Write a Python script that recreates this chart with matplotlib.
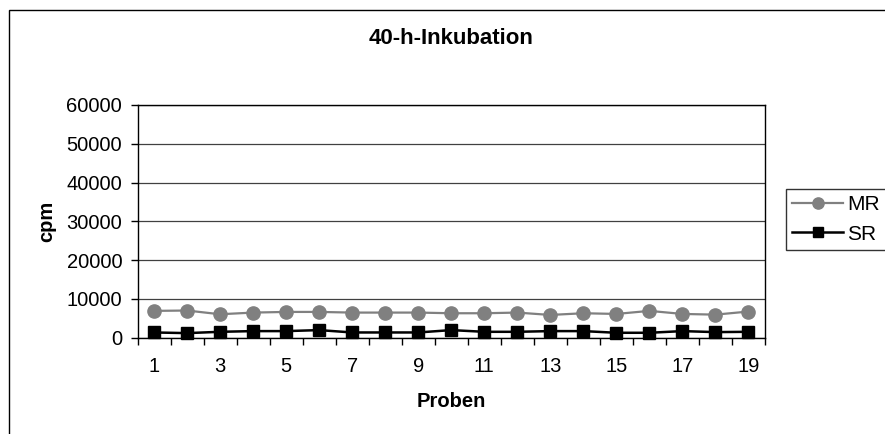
import numpy as np
import matplotlib
matplotlib.use("Agg")
import matplotlib.pyplot as plt
from matplotlib.patches import Rectangle

plt.rcParams['font.family'] = ['Liberation Sans', 'DejaVu Sans']

# counts per sample, 40 h incubation
proben = np.arange(1, 20)
mr = [6870, 6960, 6000, 6430, 6600, 6600, 6430, 6430, 6430, 6260,
      6260, 6430, 5820, 6260, 6080, 6870, 6080, 5900, 6700]
sr = [1300, 1130, 1470, 1650, 1650, 1910, 1300, 1300, 1300, 1910,
      1470, 1470, 1650, 1650, 1220, 1220, 1650, 1390, 1470]
yticks = [0, 10000, 20000, 30000, 40000, 50000, 60000]

W, H = 885, 434
fig = plt.figure(figsize=(W / 100, H / 100), dpi=100)

# chart area border (runs off the right and bottom edge)
fig.patches.append(Rectangle((9 / W, -0.05), 1.1, 1 - 10 / H + 0.05,
                             transform=fig.transFigure, fill=False,
                             edgecolor='black', lw=1.0))

ax = fig.add_axes([137.5 / W, 1 - 337.5 / H, (765 - 137.5) / W, (337.5 - 105) / H])

ax.plot(proben, mr, color='#808080', lw=1.6, marker='o', ms=9.5,
        mfc='#808080', mec='#808080', label='MR', zorder=3, clip_on=False)
ax.plot(proben, sr, color='black', lw=1.8, marker='s', ms=8.5,
        mfc='black', mec='black', label='SR', zorder=4, clip_on=False)

ax.set_xlim(0.5, 19.5)
ax.set_ylim(0, 60000)
ax.set_yticks(yticks)
ax.set_yticklabels([str(v) for v in yticks])
ax.set_xticks(proben[::2])
ax.set_xticks(np.arange(0.5, 20, 1), minor=True)
ax.tick_params(axis='x', which='major', length=0, pad=14, labelsize=14.5)
ax.tick_params(axis='x', which='minor', length=5, direction='out', width=1)
ax.tick_params(axis='y', length=5, direction='out', width=1, pad=6, labelsize=14.5)

ax.yaxis.grid(True, color='#404040', lw=0.9)
ax.set_axisbelow(True)
for s in ax.spines.values():
    s.set_color('black')
    s.set_linewidth(1.0)

fig.text(451 / W, 1 - 38 / H, '40-h-Inkubation', ha='center', va='center',
         fontsize=16, fontweight='bold')
fig.text(451 / W, 1 - 401.5 / H, 'Proben', ha='center', va='center',
         fontsize=14.5, fontweight='bold')
fig.text(47 / W, 1 - 221 / H, 'cpm', ha='center', va='center', rotation=90,
         fontsize=14.5, fontweight='bold')

h, l = ax.get_legend_handles_labels()
leg = fig.legend(h, l, loc='upper left', bbox_to_anchor=(786 / W, 1 - 189 / H),
                 fontsize=15, frameon=True, fancybox=False, handlelength=2.45,
                 handletextpad=0.2, labelspacing=0.5, borderpad=0.3,
                 borderaxespad=0, markerscale=0.85)
leg.get_frame().set_edgecolor('black')
leg.get_frame().set_linewidth(1.0)

fig.savefig('out.png', dpi=100)
